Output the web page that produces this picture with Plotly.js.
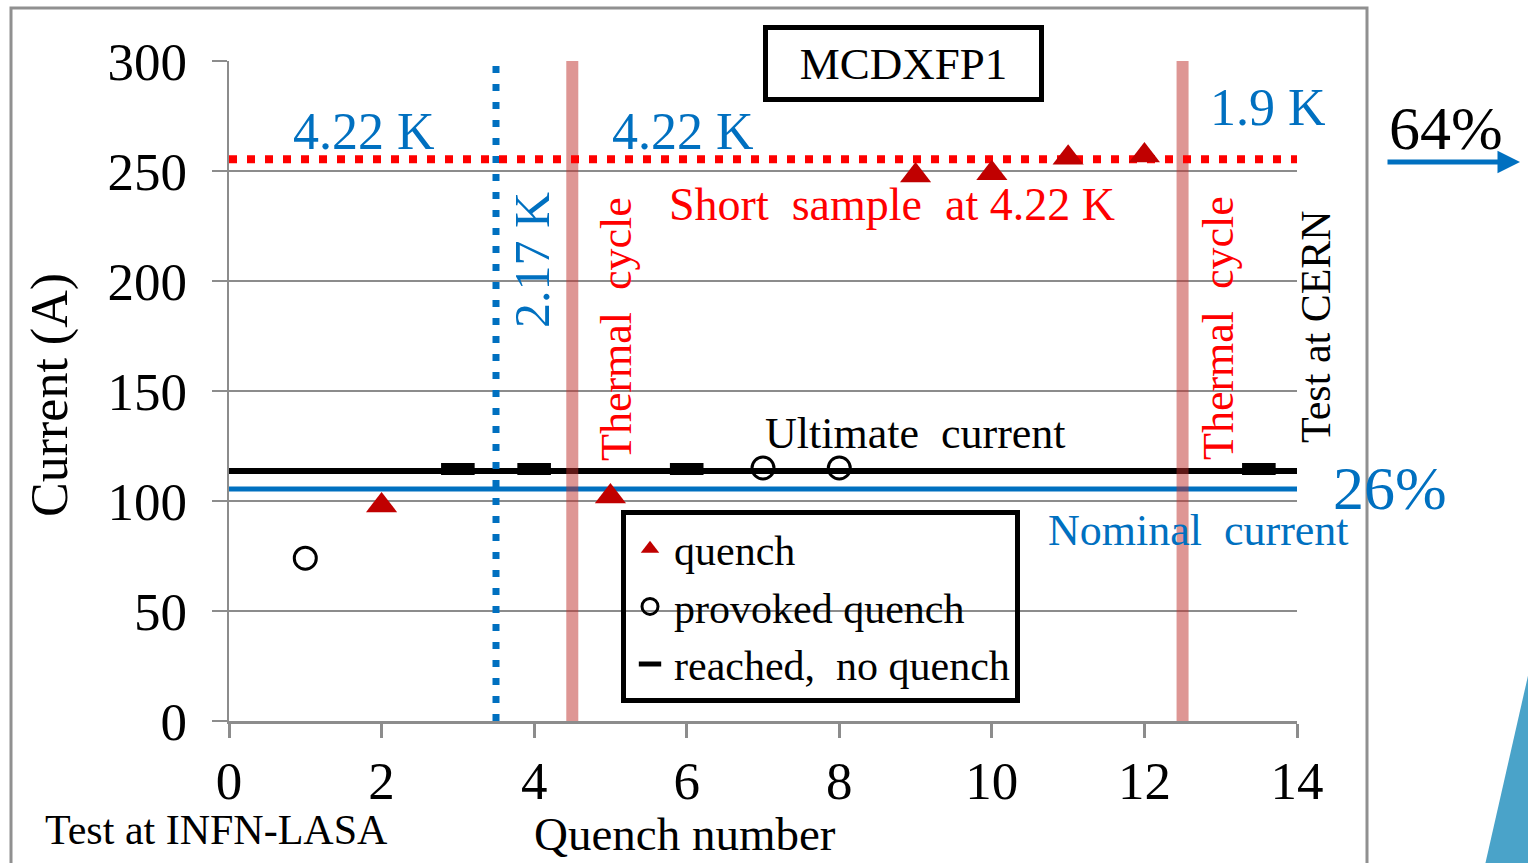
<!DOCTYPE html>
<html>
<head>
<meta charset="utf-8">
<script src="https://cdn.plot.ly/plotly-3.0.1.min.js"></script>
<style>
html,body{margin:0;padding:0;background:#fff;}
#chart{width:1528px;height:863px;}
</style>
</head>
<body>
<div id="chart"></div>
<script>
// ---- data ----
const quenchX = [2, 5, 9, 10, 11, 12];
const quenchY = [98, 102, 248, 249, 256, 257];
const provokedX = [1, 7, 8];
const provokedY = [74, 115, 115];
const reachedX = [3, 4, 6, 13.5];
const reachedY = [114.5, 114.5, 114.5, 114.5];
const ultimateCurrent = 113.6;
const nominalCurrent = 105.5;
const shortSample = 255.3;
const tempChangeX = [3.5];
const thermalCycleX = [4.5, 12.5];
const xTicks = [0, 2, 4, 6, 8, 10, 12, 14];
const yTicks = [0, 50, 100, 150, 200, 250, 300];
const xRange = [0, 14];
const yRange = [0, 300];

// ---- geometry helpers ----
const W = 1528, H = 863;
const PL = 229, PT = 61, PW = 1068, PH = 660;
const px = p => (p - PL) / PW;
const py = p => (PT + PH - p) / PH;

const SERIF = '"Liberation Serif", "Times New Roman", serif';
const BLUE = '#0070C0', RED = '#FF0000', DARKRED = '#C00000', GRID = '#8c8c8c';

const refLine = (x, y, color, width, dash) => ({
  type: 'scatter', mode: 'lines', x: x, y: y, showlegend: false, hoverinfo: 'skip',
  line: {color: color, width: width, dash: dash || 'solid'}
});

const traces = [
  refLine(xRange, [ultimateCurrent, ultimateCurrent], '#000000', 6),
  refLine(xRange, [nominalCurrent, nominalCurrent], BLUE, 5),
  refLine([tempChangeX[0], tempChangeX[0]], yRange, BLUE, 7, '7px,11px'),
  refLine([thermalCycleX[0], thermalCycleX[0]], yRange, 'rgba(190,45,42,0.5)', 12),
  refLine([thermalCycleX[1], thermalCycleX[1]], yRange, 'rgba(190,45,42,0.5)', 12),
  refLine(xRange, [shortSample, shortSample], RED, 8, '8px,10px'),
  {
    type: 'scatter', mode: 'markers', name: 'quench', x: quenchX, y: quenchY,
    marker: {symbol: 'triangle-up', size: 27, color: DARKRED}
  },
  {
    type: 'scatter', mode: 'markers', name: 'provoked quench', x: provokedX, y: provokedY,
    marker: {symbol: 'circle-open', size: 22, color: '#000', line: {width: 3, color: '#000'}}
  },
  {
    type: 'scatter', mode: 'markers', name: 'reached,  no quench', x: reachedX, y: reachedY,
    marker: {symbol: 'line-ew-open', size: 24, color: '#000', line: {width: 12, color: '#000'}}
  }
];

const ann = (text, x, y, size, color, angle) => ({
  text: text, xref: 'paper', yref: 'paper', x: px(x), y: py(y),
  xanchor: 'center', yanchor: 'middle', showarrow: false,
  textangle: angle || 0,
  font: {family: SERIF, size: size, color: color}
});

const annotations = [
  ann('4.22 K', 364, 131, 52, BLUE),
  ann('4.22 K', 683, 131, 52, BLUE),
  ann('1.9 K', 1268, 108, 52, BLUE),
  ann('64%', 1446, 128, 62, '#000'),
  ann('2.17 K', 532, 260, 50, BLUE, -90),
  ann('Thermal  cycle', 617, 329, 44, RED, -90),
  ann('Thermal  cycle', 1218, 328, 44, RED, -90),
  ann('Test at CERN', 1316, 327, 42, '#000', -90),
  ann('Short  sample  at 4.22 K', 892, 204, 46, RED),
  ann('Ultimate  current', 915, 433, 44, '#000'),
  ann('26%', 1390, 488, 62, BLUE),
  ann('Nominal  current', 1198, 530, 44, BLUE),
  ann('Test at INFN-LASA', 216, 830, 42, '#000'),
  ann('Quench number', 685, 834, 47, '#000'),
  ann('Current (A)', 50, 395, 52, '#000', -90),
  {
    text: 'MCDXFP1', xref: 'paper', yref: 'paper', x: px(903.5), y: py(61.5),
    xanchor: 'center', yanchor: 'middle', showarrow: false,
    font: {family: SERIF, size: 45, color: '#000'},
    bgcolor: '#fff', bordercolor: '#000', borderwidth: 5, borderpad: 4,
    width: 263, height: 59, yshift: -2
  },
  {
    text: '', xref: 'paper', yref: 'paper', x: px(1520), y: py(162),
    axref: 'pixel', ayref: 'pixel', ax: -134, ay: 0,
    showarrow: true, arrowhead: 2, arrowsize: 0.9, arrowwidth: 5, arrowcolor: BLUE
  }
];

const shapes = [
  {type: 'rect', xref: 'paper', yref: 'paper', x0: px(11), x1: px(1367), y0: py(8), y1: py(880),
   line: {color: '#909090', width: 3}, fillcolor: 'rgba(0,0,0,0)', layer: 'below'},
  {type: 'path', xref: 'paper', yref: 'paper',
   path: 'M ' + px(1530) + ' ' + py(667) + ' L ' + px(1485) + ' ' + py(865) + ' L ' + px(1530) + ' ' + py(865) + ' Z',
   fillcolor: '#4aa3c9', line: {width: 0}, layer: 'below'}
];

const layout = {
  width: W, height: H,
  margin: {l: PL, r: W - PL - PW, t: PT, b: H - PT - PH, pad: 0},
  paper_bgcolor: '#fff', plot_bgcolor: '#fff',
  font: {family: SERIF, color: '#000'},
  xaxis: {
    range: xRange, tickvals: xTicks, ticktext: xTicks.map(String),
    showgrid: false, zeroline: false, showline: true, linecolor: GRID, linewidth: 3,
    ticks: 'outside', ticklen: 14, tickwidth: 3, tickcolor: GRID,
    ticklabelstandoff: -3,
    tickfont: {family: SERIF, size: 53, color: '#000'}, fixedrange: true
  },
  yaxis: {
    range: yRange, tickvals: yTicks, ticktext: yTicks.map(String),
    showgrid: true, gridcolor: GRID, gridwidth: 2.5, zeroline: false,
    showline: true, linecolor: GRID, linewidth: 2.5,
    ticks: 'outside', ticklen: 15, tickwidth: 2.5, tickcolor: GRID,
    ticklabelstandoff: 14,
    tickfont: {family: SERIF, size: 53, color: '#000'}, fixedrange: true
  },
  showlegend: true,
  legend: {
    x: px(621), y: py(510), xanchor: 'left', yanchor: 'top',
    bgcolor: 'rgba(0,0,0,0)', bordercolor: '#000', borderwidth: 5,
    font: {family: SERIF, size: 42, color: '#000'}, tracegroupgap: 0,
    itemwidth: 38
  },
  annotations: annotations,
  shapes: shapes
};

Plotly.newPlot('chart', traces, layout, {staticPlot: true, displayModeBar: false});
</script>
</body>
</html>
